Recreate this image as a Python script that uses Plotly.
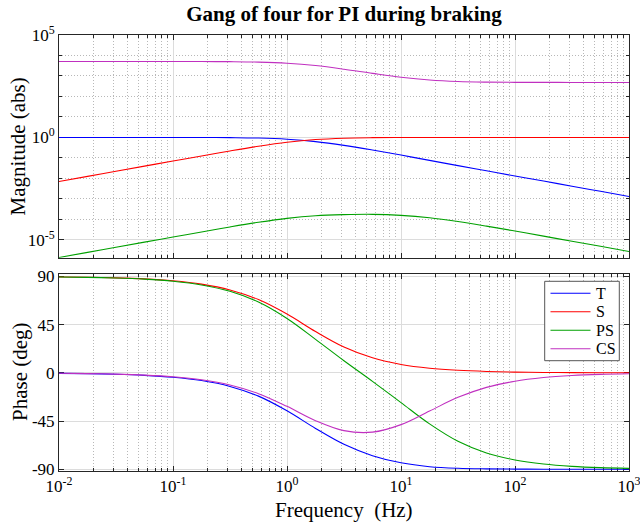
import plotly.graph_objects as go

# Frequency grid (Hz), quarter-decade steps
freq_hz = [0.01, 0.0178, 0.0316, 0.0562, 0.1, 0.178, 0.316, 0.562, 1.0, 1.78,
           3.16, 5.62, 10.0, 17.8, 31.6, 56.2, 100.0, 178.0, 316.0, 562.0, 1000.0]

# Magnitudes as log10(|G|)
t_mag_log10 = [0.0, 0.0, 0.0, 0.0, -0.001, -0.003, -0.011, -0.031, -0.087, -0.205,
               -0.388, -0.614, -0.861, -1.118, -1.375, -1.628, -1.881, -2.130, -2.380, -2.629, -2.880]
s_mag_log10 = [-2.151, -1.900, -1.650, -1.401, -1.152, -0.904, -0.661, -0.432, -0.238, -0.104,
               -0.037, -0.011, -0.002, 0.0, 0.0, 0.0, 0.0, 0.0, 0.0, 0.0, 0.0]
ps_mag_log10 = [-5.860, -5.609, -5.360, -5.110, -4.861, -4.613, -4.370, -4.142, -3.949, -3.820,
                -3.768, -3.753, -3.802, -3.919, -4.104, -4.328, -4.569, -4.817, -5.066, -5.315, -5.565]
cs_mag_log10 = [3.709, 3.709, 3.708, 3.708, 3.707, 3.705, 3.698, 3.678, 3.623, 3.508,
                3.331, 3.127, 2.937, 2.801, 2.729, 2.700, 2.690, 2.687, 2.685, 2.685, 2.685]

# Phases (deg)
t_phase = [-0.41, -0.72, -1.28, -2.28, -4.04, -7.17, -12.62, -21.69, -35.37, -51.86,
           -66.68, -77.27, -83.96, -87.58, -89.08, -89.61, -89.81, -89.90, -89.95, -89.97, -89.99]
s_phase = [89.60, 89.28, 88.73, 87.74, 85.98, 82.88, 77.47, 68.46, 54.91, 38.63,
           24.15, 14.08, 7.91, 4.37, 2.43, 1.35, 0.76, 0.43, 0.24, 0.14, 0.08]
ps_phase = [89.56, 89.21, 88.60, 87.51, 85.57, 82.14, 76.17, 66.15, 50.80, 31.35,
            11.36, -7.89, -27.76, -47.58, -63.81, -74.73, -81.31, -85.10, -87.24, -88.45, -89.13]
cs_phase = [-0.36, -0.65, -1.15, -2.05, -3.63, -6.44, -11.32, -19.38, -31.26, -44.58,
            -53.89, -55.30, -48.29, -35.63, -22.84, -13.53, -7.74, -4.37, -2.46, -1.39, -0.78]

names = ["T", "S", "PS", "CS"]
colors = ["#0000ff", "#ff0000", "#00a000", "#c030c0"]
mags = [t_mag_log10, s_mag_log10, ps_mag_log10, cs_mag_log10]
phases = [t_phase, s_phase, ps_phase, cs_phase]

# Axis tick definitions (magnitude axis is in decades: tick k means 10^k)
x_tickvals = [1e-2, 1e-1, 1e0, 1e1, 1e2, 1e3]
x_ticktext = ["10<sup>-2</sup>", "10<sup>-1</sup>", "10<sup>0</sup>",
              "10<sup>1</sup>", "10<sup>2</sup>", "10<sup>3</sup>"]
x_minor = [m * 10.0 ** e for e in range(-2, 3) for m in range(2, 10)]
mag_tickvals = [-5, 0, 5]
mag_ticktext = ["10<sup>-5</sup>", "10<sup>0</sup>", "10<sup>5</sup>"]
mag_minor = [e for e in range(-5, 6) if e % 5 != 0]
ph_tickvals = [-90, -45, 0, 45, 90]
ph_ticktext = ["-90", "-45", "0", "45", "90"]

FONT = "Liberation Serif, Times New Roman, serif"
W, H = 640, 525
ML, MR, MT, MB = 59, 11, 35, 54
plot_w = W - ML - MR
plot_h = H - MT - MB
AXIS_COL = "#262626"


def xpaper(px):
    return (px - ML) / plot_w


def ypaper(py):
    return (H - MB - py) / plot_h


fig = go.Figure()

for name, col, mg in zip(names, colors, mags):
    fig.add_trace(go.Scatter(x=freq_hz, y=mg, xaxis="x", yaxis="y", mode="lines",
                             line=dict(color=col, width=1.1, shape="spline", smoothing=1.0),
                             name=name, showlegend=False, hoverinfo="skip"))
for name, col, ph in zip(names, colors, phases):
    fig.add_trace(go.Scatter(x=freq_hz, y=ph, xaxis="x2", yaxis="y2", mode="lines",
                             line=dict(color=col, width=1.1, shape="spline", smoothing=1.0),
                             name=name, showlegend=False, hoverinfo="skip"))

GRID = "#dcdcdc"
MINOR_GRID = dict(showgrid=True, gridcolor="#b8b8b8", griddash="1px,2px", gridwidth=1)

axis_common = dict(
    showline=True, linecolor=AXIS_COL, linewidth=1, mirror="ticks",
    ticks="inside", ticklen=5, tickcolor=AXIS_COL, tickwidth=1,
    showgrid=True, gridcolor=GRID, gridwidth=1, zeroline=False,
    layer="below traces", ticklabeloverflow="allow", automargin=False,
    tickfont=dict(family=FONT, size=17, color="#000000"),
)

xaxis_common = dict(axis_common, type="log", range=[-2, 3],
                    tickmode="array", tickvals=x_tickvals, ticktext=x_ticktext,
                    minor=dict(MINOR_GRID, tickmode="array", tickvals=x_minor, ticks="inside",
                               ticklen=3, tickcolor=AXIS_COL))

# Legend drawn as a framed box with line samples and labels
leg_x0, leg_x1, leg_y0, leg_y1 = 544.7, 619.3, 281.3, 360.7
leg_rows = [293.3, 311.7, 330.2, 348.8]
shapes = [dict(type="rect", xref="paper", yref="paper",
               x0=xpaper(leg_x0), x1=xpaper(leg_x1), y0=ypaper(leg_y1), y1=ypaper(leg_y0),
               line=dict(color="#555555", width=1), fillcolor="#ffffff", layer="above")]
annotations = []
for name, col, ry in zip(names, colors, leg_rows):
    shapes.append(dict(type="line", xref="paper", yref="paper",
                       x0=xpaper(550.5), x1=xpaper(590.5), y0=ypaper(ry), y1=ypaper(ry),
                       line=dict(color=col, width=1.1), layer="above"))
    annotations.append(dict(text=name, x=xpaper(593.5), y=ypaper(ry), xref="paper", yref="paper",
                            xanchor="left", yanchor="middle", showarrow=False,
                            font=dict(family=FONT, size=16, color="#000000")))

annotations += [
    dict(text="Magnitude (abs)", textangle=-90, x=xpaper(17), xref="paper",
         y=ypaper(146.5), yref="paper", showarrow=False,
         xanchor="center", yanchor="middle", font=dict(family=FONT, size=21, color="#000000")),
    dict(text="Phase (deg)", textangle=-90, x=xpaper(20), xref="paper",
         y=ypaper(372), yref="paper", showarrow=False,
         xanchor="center", yanchor="middle", font=dict(family=FONT, size=21, color="#000000")),
    dict(text="Frequency  (Hz)", x=0.5, xref="paper", y=ypaper(510), yref="paper",
         showarrow=False, xanchor="center", yanchor="middle",
         font=dict(family=FONT, size=21, color="#000000")),
]

fig.update_layout(
    template="none",
    xaxis=dict(xaxis_common, domain=[0, 1], anchor="y", showticklabels=False),
    xaxis2=dict(xaxis_common, domain=[0, 1], anchor="y2"),
    yaxis=dict(axis_common, range=[-5.87, 5], domain=[ypaper(257.7), 1.0], anchor="x",
               tickmode="array", tickvals=mag_tickvals, ticktext=mag_ticktext,
               minor=dict(MINOR_GRID, tickmode="array", tickvals=mag_minor, ticks="inside",
                          ticklen=3, tickcolor=AXIS_COL)),
    yaxis2=dict(axis_common, range=[-91.6, 92.8], domain=[0.0, ypaper(273.5)], anchor="x2",
                tickmode="array", tickvals=ph_tickvals, ticktext=ph_ticktext),
    width=W, height=H,
    margin=dict(l=ML, r=MR, t=MT, b=MB, pad=0, autoexpand=False),
    paper_bgcolor="#ffffff", plot_bgcolor="#ffffff",
    title=dict(text="<b>Gang of four for PI during braking</b>", x=(ML + plot_w / 2) / W,
               xanchor="center", y=1 - 14 / H, yanchor="middle",
               font=dict(family=FONT, size=21, color="#000000")),
    showlegend=False,
    shapes=shapes,
    annotations=annotations,
)

fig.write_html("out.html")
